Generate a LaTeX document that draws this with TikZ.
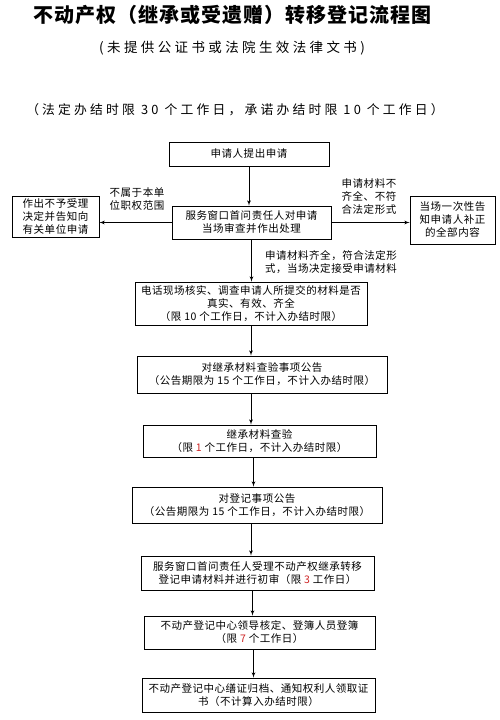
\documentclass[tikz,border=0pt]{standalone}
\usepackage{fontspec}
\setmainfont{Noto Sans CJK SC}[LetterSpace=5]
\newfontfamily\widefont{Noto Sans CJK SC}[LetterSpace=25]
\usepackage{xcolor}
\usetikzlibrary{positioning,arrows}

\definecolor{limitred}{RGB}{205,35,35}
\newcommand{\rednum}[1]{\textcolor{limitred}{#1}}

\begin{document}
\begin{tikzpicture}[
    x=1pt, y=-1pt,
    stagebox/.style={rectangle, draw, line width=0.8pt, align=center, inner sep=2pt, font=\fontsize{10.5}{13}\selectfont},
    note/.style={align=left, inner sep=1pt, font=\fontsize{10.5}{13}\selectfont},
    line/.style={draw, -latex', line width=0.8pt}
]
\useasboundingbox (0,0) rectangle (500,720);

% Headings
\node[font=\fontsize{20}{23}\selectfont\bfseries] (title) at (232.5,15) {不动产权（继承或受遗赠）转移登记流程图};
\node[font=\fontsize{13.5}{16}\widefont] (subtitle) at (232,48) {(未提供公证书或法院生效法律文书)};
\node[font=\fontsize{12.8}{15}\widefont] (limits) at (235,110) {（法定办结时限 30 个工作日，承诺办结时限 10 个工作日）};

% Application and first check
\node[stagebox, minimum width=160, minimum height=24] (apply) at (249,154) {申请人提出申请};
\node[stagebox, minimum width=159, minimum height=33] (review) at (251.5,222.5) {服务窗口首问责任人对申请\\当场审查并作出处理};
\draw[line] (apply.south) -- (apply.south |- review.north);

% Branch: outside scope
\node[stagebox, minimum width=87, minimum height=41] (reject) at (55.5,216.5) {作出不予受理\\决定并告知向\\有关单位申请};
\draw[line] (review.west) -- (review.west -| reject.east);
\node[note] (outscope) at (137,199) {不属于本单\\位职权范围};

% Branch: incomplete materials
\node[stagebox, minimum width=85, minimum height=48] (amend) at (452.5,220) {当场一次性告\\知申请人补正\\的全部内容};
\draw[line] (review.east) -- (review.east -| amend.west);
\node[note] (incomplete) at (369,197) {申请材料不\\齐全、不符\\合法定形式};

% Main line
\node[note] (accepted) at (331,262) {申请材料齐全，符合法定形\\式，当场决定接受申请材料};

\node[stagebox, minimum width=232, minimum height=43] (verify) at (251,303.5) {电话现场核实、调查申请人所提交的材料是否\\真实、有效、齐全\\（限 10 个工作日，不计入办结时限）};
\draw[line] (review.south) -- (review.south |- verify.north);

\node[stagebox, minimum width=250, minimum height=37] (notice1) at (262,374.5) {对继承材料查验事项公告\\（公告期限为 15 个工作日，不计入办结时限）};
\draw[line] (verify.south) -- (verify.south |- notice1.north);

\node[stagebox, minimum width=233, minimum height=32] (inspect) at (259.5,441) {继承材料查验\\（限 \rednum{1} 个工作日，不计入办结时限）};
\draw[line] ([xshift=-11pt]notice1.south) -- ([xshift=-11pt]notice1.south |- inspect.north);

\node[stagebox, minimum width=250, minimum height=36] (notice2) at (257,505) {对登记事项公告\\（公告期限为 15 个工作日，不计入办结时限）};
\draw[line] ([xshift=-6pt]inspect.south) -- ([xshift=-6pt]inspect.south |- notice2.north);

\node[stagebox, minimum width=233, minimum height=34] (firstcheck) at (257.5,573) {服务窗口首问责任人受理不动产权继承转移\\登记申请材料并进行初审（限 \rednum{3} 工作日）};
\draw[line] ([xshift=-6pt]notice2.south) -- ([xshift=-6pt]notice2.south |- firstcheck.north);

\node[stagebox, minimum width=231, minimum height=33] (approve) at (259.5,632.5) {不动产登记中心领导核定、登簿人员登簿\\（限 \rednum{7} 个工作日）};
\draw[line] ([xshift=-5pt]firstcheck.south) -- ([xshift=-5pt]firstcheck.south |- approve.north);

\node[stagebox, minimum width=233, minimum height=34] (issue) at (258.5,695) {不动产登记中心缮证归档、通知权利人领取证\\书（不计算入办结时限）};
\draw[line] ([xshift=-6pt]approve.south) -- ([xshift=-6pt]approve.south |- issue.north);

\end{tikzpicture}
\end{document}
